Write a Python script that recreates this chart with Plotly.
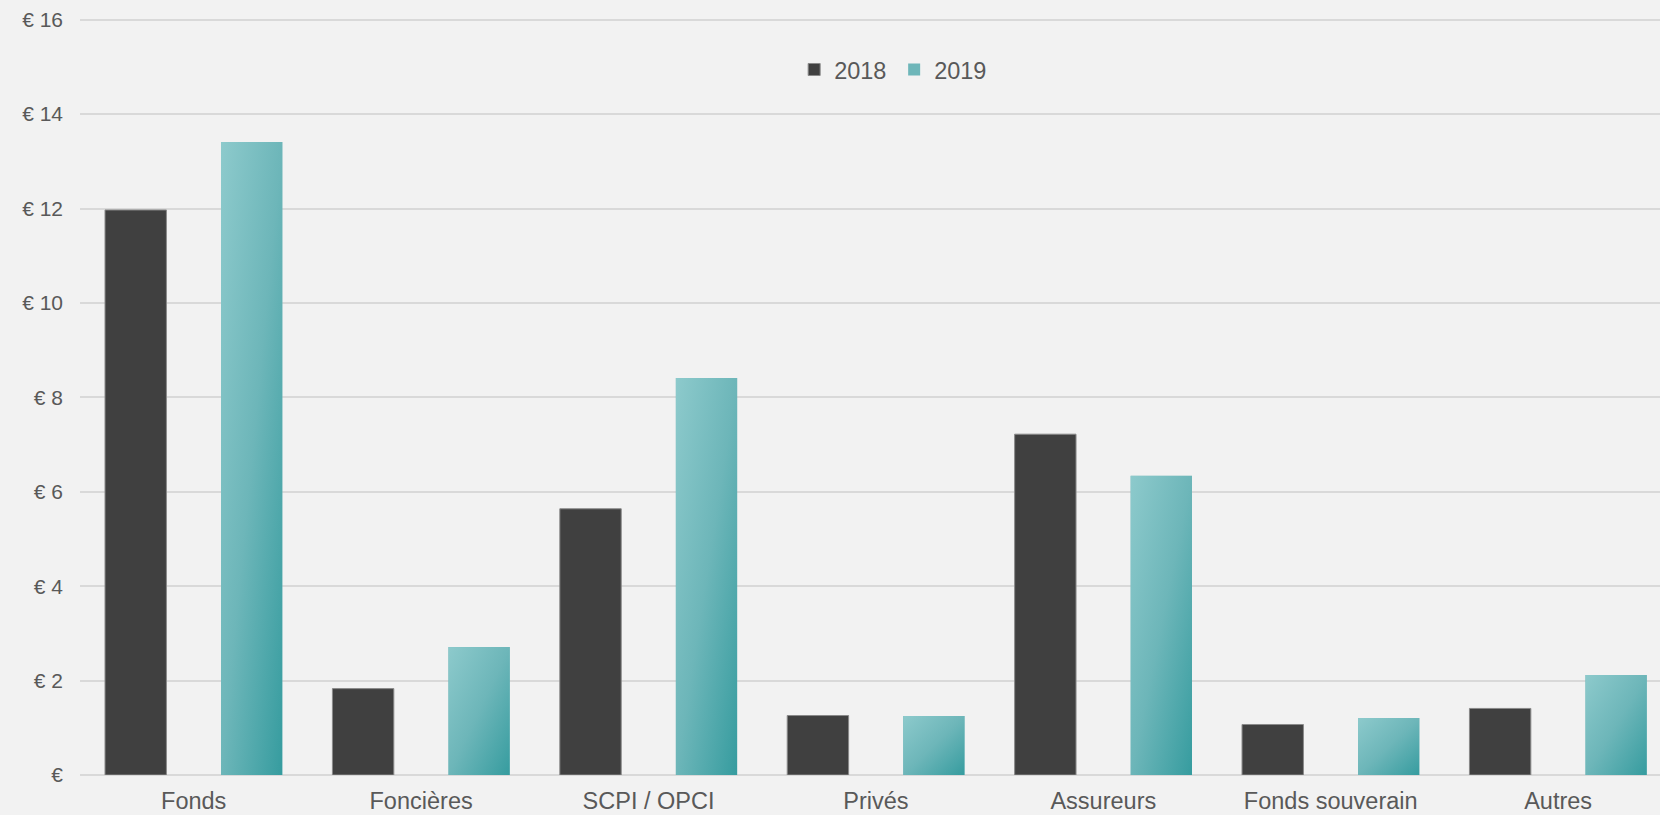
import base64
import plotly.graph_objects as go

# Investment volume by investor type (billions of euros)
categories = ["Fonds", "Foncières", "SCPI / OPCI", "Privés", "Assureurs",
              "Fonds souverain", "Autres"]
values_2018 = [11.97, 1.83, 5.64, 1.26, 7.22, 1.07, 1.41]
values_2019 = [13.41, 2.71, 8.41, 1.25, 6.34, 1.21, 2.12]
y_ticks = [0, 2, 4, 6, 8, 10, 12, 14, 16]
y_tick_text = ["€" if t == 0 else f"€ {t}" for t in y_ticks]

BAR_W = 0.27
SHIFT = 0.255
FONT = "Liberation Sans, Arial, sans-serif"
TEXT = "#595959"
BG = "#F2F2F2"
GRID = "#D9D9D9"

idx = list(range(len(categories)))

fig = go.Figure()
fig.add_trace(go.Bar(
    x=idx, y=values_2018, name="2018",
    width=BAR_W, offset=-SHIFT - BAR_W / 2,
    marker=dict(color="#404040", line=dict(color="#8A8A8A", width=1)),
))
fig.add_trace(go.Bar(
    x=idx, y=values_2019, name="2019",
    width=BAR_W, offset=SHIFT - BAR_W / 2,
    marker=dict(color="#6EB6B9", line=dict(width=0)),
))

# Diagonal teal gradient laid over each 2019 bar, stretched to the bar's box
svg = (
    '<svg xmlns="http://www.w3.org/2000/svg" width="100" height="100" '
    'viewBox="0 0 100 100" preserveAspectRatio="none">'
    '<defs><linearGradient id="g" x1="0" y1="0" x2="1" y2="1">'
    '<stop offset="0" stop-color="#8DCACC"/>'
    '<stop offset="0.5" stop-color="#6DB6B9"/>'
    '<stop offset="1" stop-color="#369C9F"/>'
    '</linearGradient></defs>'
    '<rect width="100" height="100" fill="url(#g)"/></svg>'
)
src = "data:image/svg+xml;base64," + base64.b64encode(svg.encode()).decode()
for i, v in zip(idx, values_2019):
    fig.add_layout_image(dict(
        source=src, xref="x", yref="y",
        x=i + SHIFT - BAR_W / 2, y=v, sizex=BAR_W, sizey=v,
        xanchor="left", yanchor="top", sizing="stretch", layer="above",
    ))

fig.update_layout(
    width=1660, height=815,
    margin=dict(l=80, r=0, t=15, b=40, autoexpand=False),
    paper_bgcolor=BG, plot_bgcolor=BG,
    barmode="overlay",
    font=dict(family=FONT, color=TEXT),
    showlegend=True,
    legend=dict(
        orientation="h", x=0.4520, xanchor="left", y=0.928, yanchor="middle",
        font=dict(size=23.5, color=TEXT), bgcolor="rgba(0,0,0,0)",
        entrywidth=55, entrywidthmode="pixels", itemclick=False,
    ),
    xaxis=dict(
        range=[-0.5, 6.448], automargin=False,
        tickmode="array", tickvals=idx, ticktext=categories,
        showgrid=False, zeroline=False, showline=False, ticks="",
        tickfont=dict(size=23.5, color=TEXT), ticklabelstandoff=9,
    ),
    yaxis=dict(
        range=[0, 16.1], automargin=False,
        tickmode="array", tickvals=y_ticks, ticktext=y_tick_text,
        showgrid=True, gridcolor=GRID, gridwidth=1.5,
        zeroline=True, zerolinecolor=GRID, zerolinewidth=2,
        showline=False, ticks="",
        tickfont=dict(size=21, color=TEXT), ticklabelstandoff=16,
    ),
)

fig.write_html("out.html")
